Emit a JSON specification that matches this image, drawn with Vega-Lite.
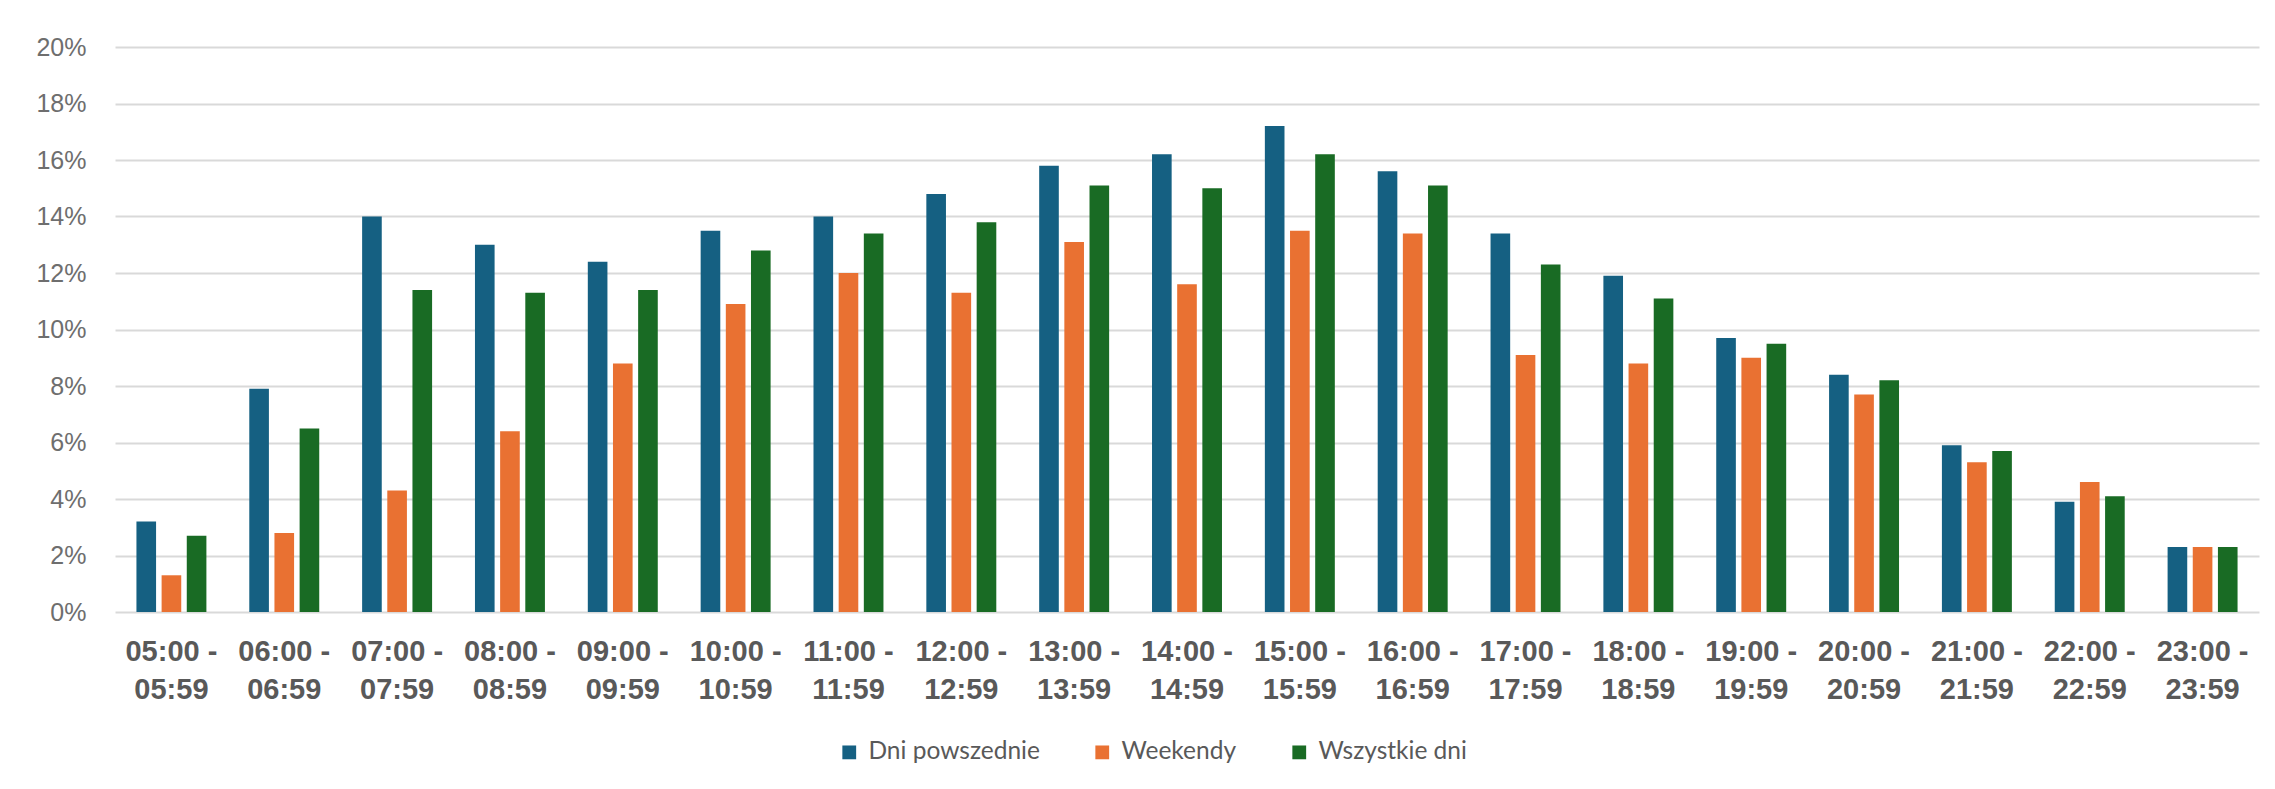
{
  "$schema": "https://vega.github.io/schema/vega-lite/v6.json",
  "autosize": {"type": "none"},
  "width": 2144,
  "height": 565,
  "padding": {"left": 115, "top": 47, "right": 16, "bottom": 177},
  "background": "white",
  "config": {"view": {"stroke": null}},
  "data": {"values": [
    {"h": "05:00 - 05:59", "s": "Dni powszednie", "v": 0.032}, {"h": "05:00 - 05:59", "s": "Weekendy", "v": 0.013}, {"h": "05:00 - 05:59", "s": "Wszystkie dni", "v": 0.027},
    {"h": "06:00 - 06:59", "s": "Dni powszednie", "v": 0.079}, {"h": "06:00 - 06:59", "s": "Weekendy", "v": 0.028}, {"h": "06:00 - 06:59", "s": "Wszystkie dni", "v": 0.065},
    {"h": "07:00 - 07:59", "s": "Dni powszednie", "v": 0.140}, {"h": "07:00 - 07:59", "s": "Weekendy", "v": 0.043}, {"h": "07:00 - 07:59", "s": "Wszystkie dni", "v": 0.114},
    {"h": "08:00 - 08:59", "s": "Dni powszednie", "v": 0.130}, {"h": "08:00 - 08:59", "s": "Weekendy", "v": 0.064}, {"h": "08:00 - 08:59", "s": "Wszystkie dni", "v": 0.113},
    {"h": "09:00 - 09:59", "s": "Dni powszednie", "v": 0.124}, {"h": "09:00 - 09:59", "s": "Weekendy", "v": 0.088}, {"h": "09:00 - 09:59", "s": "Wszystkie dni", "v": 0.114},
    {"h": "10:00 - 10:59", "s": "Dni powszednie", "v": 0.135}, {"h": "10:00 - 10:59", "s": "Weekendy", "v": 0.109}, {"h": "10:00 - 10:59", "s": "Wszystkie dni", "v": 0.128},
    {"h": "11:00 - 11:59", "s": "Dni powszednie", "v": 0.140}, {"h": "11:00 - 11:59", "s": "Weekendy", "v": 0.120}, {"h": "11:00 - 11:59", "s": "Wszystkie dni", "v": 0.134},
    {"h": "12:00 - 12:59", "s": "Dni powszednie", "v": 0.148}, {"h": "12:00 - 12:59", "s": "Weekendy", "v": 0.113}, {"h": "12:00 - 12:59", "s": "Wszystkie dni", "v": 0.138},
    {"h": "13:00 - 13:59", "s": "Dni powszednie", "v": 0.158}, {"h": "13:00 - 13:59", "s": "Weekendy", "v": 0.131}, {"h": "13:00 - 13:59", "s": "Wszystkie dni", "v": 0.151},
    {"h": "14:00 - 14:59", "s": "Dni powszednie", "v": 0.162}, {"h": "14:00 - 14:59", "s": "Weekendy", "v": 0.116}, {"h": "14:00 - 14:59", "s": "Wszystkie dni", "v": 0.150},
    {"h": "15:00 - 15:59", "s": "Dni powszednie", "v": 0.172}, {"h": "15:00 - 15:59", "s": "Weekendy", "v": 0.135}, {"h": "15:00 - 15:59", "s": "Wszystkie dni", "v": 0.162},
    {"h": "16:00 - 16:59", "s": "Dni powszednie", "v": 0.156}, {"h": "16:00 - 16:59", "s": "Weekendy", "v": 0.134}, {"h": "16:00 - 16:59", "s": "Wszystkie dni", "v": 0.151},
    {"h": "17:00 - 17:59", "s": "Dni powszednie", "v": 0.134}, {"h": "17:00 - 17:59", "s": "Weekendy", "v": 0.091}, {"h": "17:00 - 17:59", "s": "Wszystkie dni", "v": 0.123},
    {"h": "18:00 - 18:59", "s": "Dni powszednie", "v": 0.119}, {"h": "18:00 - 18:59", "s": "Weekendy", "v": 0.088}, {"h": "18:00 - 18:59", "s": "Wszystkie dni", "v": 0.111},
    {"h": "19:00 - 19:59", "s": "Dni powszednie", "v": 0.097}, {"h": "19:00 - 19:59", "s": "Weekendy", "v": 0.090}, {"h": "19:00 - 19:59", "s": "Wszystkie dni", "v": 0.095},
    {"h": "20:00 - 20:59", "s": "Dni powszednie", "v": 0.084}, {"h": "20:00 - 20:59", "s": "Weekendy", "v": 0.077}, {"h": "20:00 - 20:59", "s": "Wszystkie dni", "v": 0.082},
    {"h": "21:00 - 21:59", "s": "Dni powszednie", "v": 0.059}, {"h": "21:00 - 21:59", "s": "Weekendy", "v": 0.053}, {"h": "21:00 - 21:59", "s": "Wszystkie dni", "v": 0.057},
    {"h": "22:00 - 22:59", "s": "Dni powszednie", "v": 0.039}, {"h": "22:00 - 22:59", "s": "Weekendy", "v": 0.046}, {"h": "22:00 - 22:59", "s": "Wszystkie dni", "v": 0.041},
    {"h": "23:00 - 23:59", "s": "Dni powszednie", "v": 0.023}, {"h": "23:00 - 23:59", "s": "Weekendy", "v": 0.023}, {"h": "23:00 - 23:59", "s": "Wszystkie dni", "v": 0.023}
  ]},
  "mark": {"type": "bar"},
  "encoding": {
    "x": {
      "field": "h", "type": "nominal", "sort": null,
      "scale": {"paddingInner": 0.38, "paddingOuter": 0.19},
      "axis": {
        "title": null, "domain": false, "ticks": false, "labelAngle": 0,
        "labelExpr": "[slice(datum.label, 0, 7), slice(datum.label, 8)]",
        "labelFont": "Liberation Sans", "labelFontSize": 29, "labelFontWeight": "bold",
        "labelColor": "#595959", "labelPadding": 25, "labelLineHeight": 38, "labelBaseline": "top"
      }
    },
    "xOffset": {
      "field": "s", "type": "nominal",
      "sort": ["Dni powszednie", "Weekendy", "Wszystkie dni"],
      "scale": {"paddingInner": 0.22, "paddingOuter": 0}
    },
    "y": {
      "field": "v", "type": "quantitative",
      "scale": {"domain": [0, 0.2], "nice": false},
      "axis": {
        "title": null, "domain": false, "ticks": false, "format": ".0%",
        "values": [0, 0.02, 0.04, 0.06, 0.08, 0.1, 0.12, 0.14, 0.16, 0.18, 0.2],
        "labelFont": "Liberation Sans", "labelFontSize": 25, "labelColor": "#6e6e6e",
        "labelPadding": 29, "gridColor": "#d9d9d9", "gridWidth": 2
      }
    },
    "color": {
      "field": "s", "type": "nominal",
      "sort": ["Dni powszednie", "Weekendy", "Wszystkie dni"],
      "scale": {"domain": ["Dni powszednie", "Weekendy", "Wszystkie dni"], "range": ["#156082", "#E97132", "#196B24"]},
      "legend": {
        "title": null, "orient": "none", "direction": "horizontal",
        "legendX": 722, "legendY": 693, "padding": 0,
        "symbolType": "square", "symbolSize": 190, "symbolStrokeWidth": 0,
        "labelFont": "Lato", "labelFontSize": 24.5, "labelColor": "#595959", "labelLimit": 500,
        "labelOffset": 7, "columnPadding": 50
      }
    }
  }
}
